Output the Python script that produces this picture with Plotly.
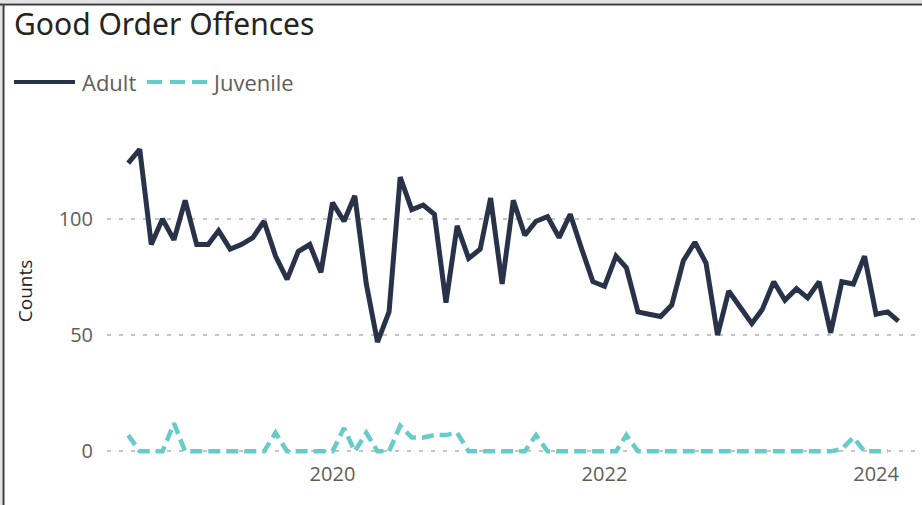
import pandas as pd
import plotly.graph_objects as go

# ---- data ----
months = pd.date_range("2018-07-01", periods=69, freq="MS")
adult = [124, 130, 89, 100, 91, 108, 89, 89, 95, 87, 89, 92, 99, 84, 74, 86, 89, 77,
         107, 99, 110, 72, 47, 60, 118, 104, 106, 102, 64, 97, 83, 87, 109, 72, 108, 93,
         99, 101, 92, 102, 87, 73, 71, 84, 79, 60, 59, 58, 63, 82, 90, 81, 50, 69,
         62, 55, 61, 73, 65, 70, 66, 73, 51, 73, 72, 84, 59, 60, 56]
juvenile = [7, 0, 0, 0, 12, 0, 0, 0, 0, 0, 0, 0, 0, 8, 0, 0, 0, 0,
            0, 10, 0, 8, 0, 0, 11, 6, 6, 7, 7, 8, 0, 0, 0, 0, 0, 0,
            7, 0, 0, 0, 0, 0, 0, 0, 7, 0, 0, 0, 0, 0, 0, 0, 0, 0,
            0, 0, 0, 0, 0, 0, 0, 0, 0, 1, 6, 0, 0, 0, None]
y_ticks = [0, 50, 100]
series_names = ["Adult", "Juvenile"]
chart_title = "Good Order Offences"
y_title = "Counts"

ADULT_C = "#28334A"
JUV_C = "#66CCCA"
TXT = "#605E5C"
DARK = "#252423"

W, H = 922, 505
ML, MR, MT, MB = 107, 5, 126, 49
PW, PH = W - ML - MR, H - MT - MB

def px(x):
    return (x - ML) / PW

def py(y):
    return (H - MB - y) / PH

fig = go.Figure()
fig.add_trace(go.Scatter(x=months, y=adult, mode="lines", name=series_names[0],
                         line=dict(color=ADULT_C, width=5), showlegend=False))
fig.add_trace(go.Scatter(x=months, y=juvenile, mode="lines", name=series_names[1],
                         line=dict(color=JUV_C, width=4.5, dash="12px,6px"), showlegend=False))

shapes = []
# frame
shapes.append(dict(type="rect", xref="paper", yref="paper", x0=px(0), x1=px(W), y0=py(0), y1=py(3),
                   fillcolor="#E3E3E3", line=dict(width=0), layer="below"))
shapes.append(dict(type="rect", xref="paper", yref="paper", x0=px(0), x1=px(2), y0=py(0), y1=py(H),
                   fillcolor="#E3E3E3", line=dict(width=0), layer="below"))
shapes.append(dict(type="line", xref="paper", yref="paper", x0=px(0), x1=px(W), y0=py(4.5), y1=py(4.5),
                   line=dict(color="#3C3C3C", width=2)))
shapes.append(dict(type="line", xref="paper", yref="paper", x0=px(3.5), x1=px(3.5), y0=py(4), y1=py(H),
                   line=dict(color="#3C3C3C", width=2)))
# legend samples
shapes.append(dict(type="line", xref="paper", yref="paper", x0=px(14), x1=px(75), y0=py(82), y1=py(82),
                   line=dict(color=ADULT_C, width=4)))
for a, b in [(147, 162), (170, 185), (192, 207)]:
    shapes.append(dict(type="line", xref="paper", yref="paper", x0=px(a), x1=px(b), y0=py(82), y1=py(82),
                       line=dict(color=JUV_C, width=4)))

annotations = [
    dict(text=series_names[0], xref="paper", yref="paper", x=px(80), y=py(82), xanchor="left",
         yanchor="middle", showarrow=False, font=dict(family="Open Sans", size=22, color=TXT)),
    dict(text=series_names[1], xref="paper", yref="paper", x=px(210), y=py(82), xanchor="left",
         yanchor="middle", showarrow=False, font=dict(family="Open Sans", size=22, color=TXT)),
]

fig.update_layout(
    width=W, height=H,
    margin=dict(l=ML, r=MR, t=MT, b=MB, autoexpand=False),
    paper_bgcolor="white", plot_bgcolor="white",
    title=dict(text=chart_title, xref="container", yref="container", x=14 / W, y=1 - 24 / H,
               xanchor="left", yanchor="middle",
               font=dict(family="Noto Sans", size=30, color=DARK)),
    shapes=shapes, annotations=annotations,
    xaxis=dict(range=["2018-05-05", "2024-04-20"], tick0="2020-01-01", dtick="M24",
               tickformat="%Y", showgrid=False, zeroline=False, showline=False, ticks="",
               tickfont=dict(family="Open Sans", size=20, color=TXT), ticklabelstandoff=4),
    yaxis=dict(range=[-2, 140], tickvals=y_ticks, showgrid=True, gridcolor="#C4C4C4",
               gridwidth=1.5, griddash="4px,8px", zeroline=False, showline=False, ticks="",
               tickfont=dict(family="Open Sans", size=20, color=TXT), ticklabelstandoff=13,
               title=dict(text=y_title, standoff=21,
                          font=dict(family="Open Sans", size=19, color=DARK))),
)

fig.write_html("out.html", config={"displayModeBar": False},
               post_script="document.body.style.margin='0px';document.body.style.padding='0px';")
